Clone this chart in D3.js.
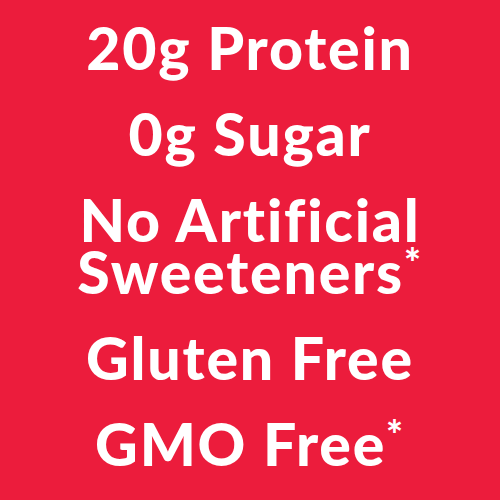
<!DOCTYPE html>
<html>
<head>
<meta charset="utf-8">
<script src="https://cdn.jsdelivr.net/npm/d3@7"></script>
<style>
  html, body { margin: 0; padding: 0; background: #ec1c3c; }
  svg { display: block; }
</style>
</head>
<body>
<div id="plot"></div>
<script>
// claims, grouped: lines inside one group sit tighter together
var claimGroups = [
  ["20g Protein"],
  ["0g Sugar"],
  ["No Artificial", "Sweeteners*"],
  ["Gluten Free"],
  ["GMO Free*"]
];

var W = 500, H = 500;
var bg = "#ec1c3c", ink = "#ffffff";

var svg = d3.select("#plot").append("svg")
    .attr("width", W).attr("height", H);

svg.append("rect").attr("width", W).attr("height", H).style("fill", bg);

// flatten to lines, remember group index
var lines = [];
claimGroups.forEach(function(g, gi) {
  g.forEach(function(t, li) { lines.push({text: t, group: gi, inner: li}); });
});

var groupGap = 86, innerGap = 52, firstBase = 70;
var yPos = 0;
lines.forEach(function(d, i) {
  if (i === 0) yPos = firstBase;
  else yPos += (d.inner > 0 ? innerGap : groupGap);
  d.y = yPos;
});

var txt = svg.selectAll(".claim")
  .data(lines)
  .enter().append("text")
    .attr("class", "claim")
    .attr("x", W / 2)
    .attr("y", function(d) { return d.y; })
    .attr("text-anchor", "middle")
    .style("font-family", "Lato, 'Open Sans', sans-serif")
    .style("font-weight", 900)
    .style("font-size", "59px")
    .style("letter-spacing", "1.8px")
    .style("fill", ink);

txt.each(function(d) {
  var el = d3.select(this);
  var star = d.text.slice(-1) === "*";
  var main = star ? d.text.slice(0, -1) : d.text;
  el.append("tspan").text(main);
  if (star) {
    el.append("tspan")
      .attr("dy", -16)
      .style("font-size", "40px")
      .text("*");
  }
});
</script>
</body>
</html>
